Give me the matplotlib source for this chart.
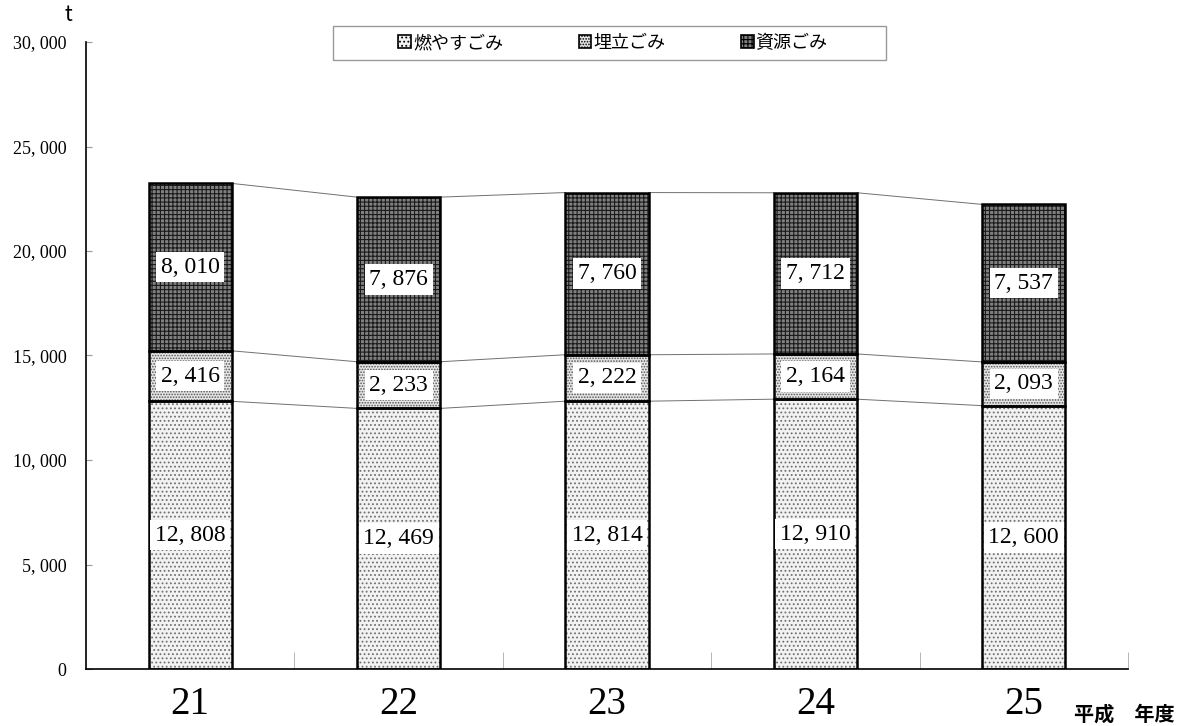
import matplotlib.pyplot as plt
import matplotlib as mpl
from matplotlib.patches import Rectangle
import numpy as np

mpl.rcParams['hatch.linewidth'] = 0.8

years = ['21', '22', '23', '24', '25']
moyasu = [12808, 12469, 12814, 12910, 12600]
umetate = [2416, 2233, 2222, 2164, 2093]
shigen = [8010, 7876, 7760, 7712, 7537]
series_names = ['燃やすごみ', '埋立ごみ', '資源ごみ']

serif = ['Liberation Serif', 'DejaVu Serif']
cjk = ['Noto Sans CJK JP', 'DejaVu Sans']

fig = plt.figure(figsize=(11.9, 7.26), dpi=100)
ax = fig.add_axes([86 / 1190, 1 - 669 / 726, (1128 - 86) / 1190, (669 - 42) / 726])

x = np.arange(len(years))
w = 0.4
data = [moyasu, umetate, shigen]
styles = [
    dict(facecolor='#f2f2f2', hatch='....', hcolor='#707070'),
    dict(facecolor='#e6e6e6', hatch='......', hcolor='#555555'),
    dict(facecolor='#808080', hatch='++++', hcolor='#1a1a1a'),
]

bottom = np.zeros(len(years))
handles = []
for vals, st, name in zip(data, styles, series_names):
    vals = np.array(vals)
    bars = ax.bar(x, vals, w, bottom=bottom, facecolor=st['facecolor'],
                  edgecolor=st['hcolor'], hatch=st['hatch'], linewidth=0, zorder=2)
    # black outline drawn separately
    ax.bar(x, vals, w, bottom=bottom, facecolor='none', edgecolor='black',
           linewidth=1.8, zorder=3)
    handles.append(bars)
    top = bottom + vals
    # connector lines between bars
    for i in range(len(years) - 1):
        ax.plot([x[i] + w / 2, x[i + 1] - w / 2], [top[i], top[i + 1]],
                color='#707070', linewidth=0.7, zorder=1)
    for i in range(len(years)):
        ax.text(x[i], bottom[i] + vals[i] / 2, f'{vals[i]:,}'.replace(',', ', '),
                ha='center', va='center', fontsize=17, family=serif, zorder=4,
                bbox=dict(boxstyle='square,pad=0.2', facecolor='white', edgecolor='none'))
    bottom = top

ax.set_xlim(-0.5, 4.5)
ax.set_ylim(0, 30000)
ax.set_yticks(np.arange(0, 30001, 5000))
ax.set_yticklabels([f'{v:,}'.replace(',', ', ') for v in range(0, 30001, 5000)],
                   family=serif, fontsize=13)
ax.tick_params(axis='y', direction='in', length=4, color='#999999', pad=14)

ax.set_xticks(x)
ax.set_xticklabels(years, family=serif, fontsize=28)
ax.tick_params(axis='x', which='major', length=0, pad=12)
ax.set_xticks(np.arange(0.5, 4.6, 1), minor=True)
ax.tick_params(axis='x', which='minor', direction='in', length=12, color='#aaaaaa')

for s in ['top', 'right']:
    ax.spines[s].set_visible(False)
ax.spines['left'].set_linewidth(1.2)
ax.spines['bottom'].set_linewidth(1.2)

fig.text(68 / 1190, 1 - 15 / 726, 't', fontsize=15, family=cjk, ha='center', va='center')
fig.text(1074 / 1190, 1 - 714 / 726, '平成　年度', fontsize=14.5, family=cjk,
         ha='left', va='center', fontweight='bold')

# legend box frame
fig.patches.append(Rectangle((333 / 1190, 1 - 60 / 726), (886 - 333) / 1190, 34 / 726,
                             transform=fig.transFigure, facecolor='white',
                             edgecolor='#999999', linewidth=1.0, zorder=5))
leg = fig.legend(handles, series_names, loc='center',
                 bbox_to_anchor=(613 / 1190, 1 - 43 / 726), ncol=3,
                 prop={'family': cjk, 'size': 13}, frameon=False,
                 handlelength=0.7, handleheight=0.7,
                 handletextpad=0.1, columnspacing=4.2, borderaxespad=0)
leg.set_zorder(6)
for p in leg.get_patches():
    p.set_edgecolor('black')
    p.set_linewidth(1.2)

fig.savefig('out.png', dpi=100)
